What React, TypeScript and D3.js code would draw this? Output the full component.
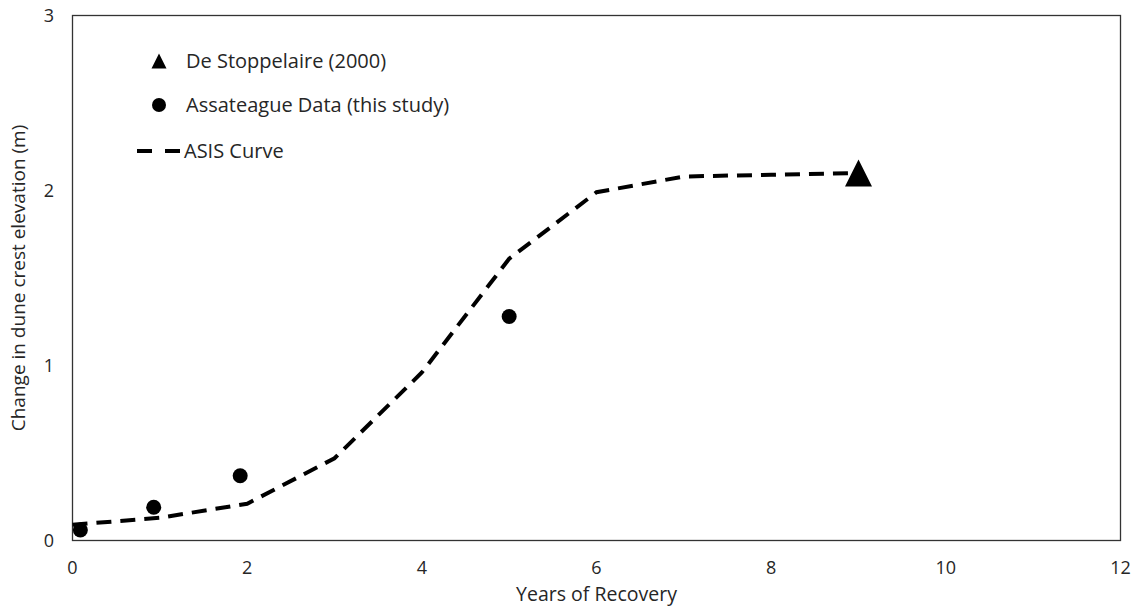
import React from "react";
import * as d3 from "d3";

const curveX = [0, 1, 2, 3, 4, 5, 6, 7, 8, 9];
const curveY = [0.09, 0.13, 0.21, 0.47, 0.96, 1.61, 1.99, 2.08, 2.09, 2.1];
const assateagueX = [0.09, 0.93, 1.92, 5.0];
const assateagueY = [0.06, 0.19, 0.37, 1.28];
const deStoppX = [9];
const deStoppY = [2.1];
const xTicks = [0, 2, 4, 6, 8, 10, 12];
const yTicks = [0, 1, 2, 3];

export default function App() {
  const W = 1139, H = 609;
  const left = 72.5, right = 1120.5, top = 15.5, bottom = 540.5;
  const x = d3.scaleLinear().domain([0, 12]).range([left, right]);
  const y = d3.scaleLinear().domain([0, 3]).range([bottom, top]);
  const line = d3.line<number>().x((d, i) => x(curveX[i])).y((d) => y(d));
  const font = "'Open Sans', 'Noto Sans', sans-serif";
  const triPath = (w: number) => {
    const h = w;
    return `M0,${-h / 2}L${w / 2},${h / 2}L${-w / 2},${h / 2}Z`;
  };
  return (
    <svg width={W} height={H} style={{ position: "absolute", left: 0, top: 0 }}>
      <rect x={0} y={0} width={W} height={H} fill="#fff" />
      <rect x={left} y={top} width={right - left} height={bottom - top} fill="none" stroke="#333" strokeWidth={1.3} />
      {xTicks.map((t) => (
        <text key={"x" + t} x={x(t)} y={574} textAnchor="middle" fontFamily={font} fontSize={18} fill="#262626">{t}</text>
      ))}
      {yTicks.map((t) => (
        <text key={"y" + t} x={49} y={y(t) + 6} textAnchor="middle" fontFamily={font} fontSize={18} fill="#262626">{t}</text>
      ))}
      <text x={(left + right) / 2} y={601} textAnchor="middle" fontFamily={font} fontSize={19.5} fill="#262626">Years of Recovery</text>
      <text transform={`translate(25,${(top + bottom) / 2}) rotate(-90)`} textAnchor="middle" fontFamily={font} fontSize={19} fill="#262626">Change in dune crest elevation (m)</text>
      <path d={line(curveY) || ""} fill="none" stroke="#000" strokeWidth={4} strokeDasharray="15,9" />
      {assateagueX.map((v, i) => (
        <circle key={"c" + i} cx={x(v)} cy={y(assateagueY[i])} r={7.5} fill="#000" />
      ))}
      {deStoppX.map((v, i) => (
        <path key={"t" + i} d={triPath(27)} transform={`translate(${x(v)},${y(deStoppY[i])})`} fill="#000" />
      ))}
      {/* legend */}
      <path d={triPath(15)} transform="translate(159,61)" fill="#000" />
      <text x={186} y={68} fontFamily={font} fontSize={20} fill="#262626">De Stoppelaire (2000)</text>
      <circle cx={159} cy={105} r={7} fill="#000" />
      <text x={186} y={112} fontFamily={font} fontSize={20} fill="#262626">Assateague Data (this study)</text>
      <line x1={137} x2={181} y1={151} y2={151} stroke="#000" strokeWidth={4} strokeDasharray="15,13" />
      <text x={184} y={158} fontFamily={font} fontSize={20} fill="#262626">ASIS Curve</text>
    </svg>
  );
}
